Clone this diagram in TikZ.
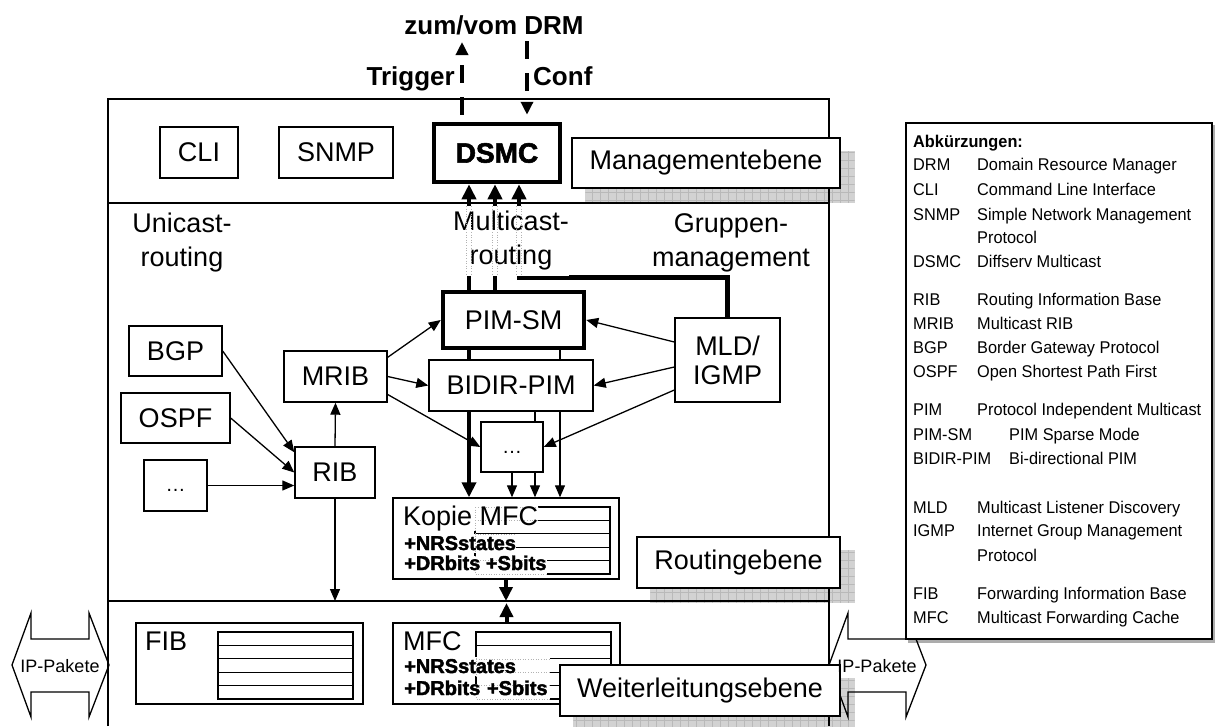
\documentclass[tikz,border=0pt]{standalone}
\usepackage{fontspec}
\setmainfont{Liberation Sans}
\newfontfamily\heavyfont{Liberation Sans}[BoldFeatures={FakeBold=2}]
\newfontfamily\legfont{Liberation Sans}[FakeStretch=0.96]
\usetikzlibrary{arrows.meta}
\pgfdeclarelayer{shadows}
\pgfdeclarelayer{wires}
\pgfdeclarelayer{cells}
\pgfsetlayers{shadows,wires,main,cells}

% font sizes (1pt = 1 unit of the drawing)
\newcommand\fLab{\fontsize{27}{34}\selectfont}
\newcommand\fMld{\fontsize{27}{29}\selectfont}
\newcommand\fHead{\bfseries\fontsize{26}{30}\selectfont}
\newcommand\fHeavy{\heavyfont\bfseries\fontsize{28}{30}\selectfont}
\newcommand\fNRS{\heavyfont\bfseries\fontsize{20}{22}\selectfont}
\newcommand\fLeg{\legfont\fontsize{17}{20}\selectfont}
\newcommand\fIP{\fontsize{18}{20}\selectfont}
\newcommand\fDots{\fontsize{20}{22}\selectfont}

\tikzset{
  box/.style={draw, fill=white, line width=1.4pt, inner sep=0pt, font=\fLab},
  heavybox/.style={box, line width=4.5pt},
  dotsbox/.style={box, font=\fDots, text height=12pt, text depth=0pt},
  txt/.style={inner sep=0pt, font=\fLab, align=center},
  celltext/.style={inner sep=0pt, anchor=base west},
  planeframe/.style={line width=1.4pt},
  conn/.style={line width=1.3pt, -{Triangle[length=12pt,width=10pt]}},
  fatline/.style={line width=4.5pt},
  fatarrow/.style={fatline, -{Triangle[length=15pt,width=14pt]}},
  fatboth/.style={fatline, {Triangle[length=15pt,width=14pt]}-{Triangle[length=15pt,width=14pt]}},
  drmarrow/.style={line width=4pt, dash pattern=on 18pt off 14pt, -{Triangle[length=13pt,width=12pt]}},
  hiddenline/.style={gray!60, dotted, line width=0.6pt},
  tablerule/.style={line width=1.2pt},
  shadowfill/.style={fill=gray!35},
  shadowgrid/.style={draw=gray!55, line width=0.4pt, step=8pt},
  legtext/.style={font=\fLeg, inner sep=0pt, anchor=base west},
  ipshape/.style={line width=1.3pt},
  iptext/.style={font=\fIP, inner sep=0pt},
  legshadow/.style={fill=gray!65},
}

% table of five rows: style, x1, y1, x2, y2
\newcommand\tablegrid[5]{%
  \draw[#1] (#2,#3) rectangle (#4,#5);
  \foreach \k in {1,...,4}
    \draw[#1] (#2,{#3+(#5-#3)*\k/5}) -- (#4,{#3+(#5-#3)*\k/5});
}
% white patch behind a cell label; the covered rules stay visible as dots
% args: label node, x1, y1, x2, y2 of the table
\newcommand\cellpatch[5]{%
  \fill[white] (#1.south west) rectangle (#1.north east);
  \begin{scope}
    \clip (#1.south west) rectangle (#1.north east);
    \tablegrid{hiddenline}{#2}{#3}{#4}{#5}
  \end{scope}
}
% hatched drop shadow between two corners
\newcommand\gridshadow[2]{%
  \fill[shadowfill] #1 rectangle #2;
  \begin{scope}
    \clip #1 rectangle #2;
    \draw[shadowgrid] #1 grid #2;
  \end{scope}
}

\begin{document}
\begin{tikzpicture}[x=1pt,y=-1pt]
\useasboundingbox (0,0) rectangle (1215,726);

% ---------- management plane ----------
\node[box, minimum width=78pt, minimum height=51pt] (cli) at (199,152.5) {CLI};
\node[box, minimum width=114pt, minimum height=51pt] (snmp) at (336,152.5) {SNMP};
\node[heavybox, minimum width=126pt, minimum height=58pt, font=\fHeavy] (dsmc) at (497,153) {DSMC};

\node[font=\fHead, inner sep=0pt] (drm) at (494,25) {zum/vom DRM};
\node[font=\fHead, inner sep=0pt, anchor=base east] (trig) at (455,85) {Trigger};
\node[font=\fHead, inner sep=0pt, anchor=base west] (conf) at (533,85) {Conf};
\coordinate (trigEnd) at (462,42);
\coordinate (confStart) at (527,41);

% ---------- routing plane ----------
\node[txt] (uni) at (182,243) {Unicast-\\routing};
\node[txt] (grp) at (731,243) {Gruppen-\\management};

\node[heavybox, minimum width=141pt, minimum height=56pt] (pimsm) at (513.5,320) {PIM-SM};
\node[box, minimum width=164pt, minimum height=51pt] (bidir) at (511,385.5) {BIDIR-PIM};
\node[box, align=center, font=\fMld, minimum width=105pt, minimum height=84pt] (mld) at (727.5,360) {MLD/\\IGMP};
\node[box, minimum width=103pt, minimum height=51pt] (mrib) at (335.5,376.5) {MRIB};
\node[box, minimum width=93pt, minimum height=50pt] (bgp) at (175.5,351) {BGP};
\node[box, minimum width=109pt, minimum height=50pt] (ospf) at (175.5,418) {OSPF};
\node[dotsbox, minimum width=63pt, minimum height=51pt] (dotsl) at (175.5,485.5) {…};
\node[box, minimum width=80pt, minimum height=51pt] (rib) at (335,472.5) {RIB};
\node[dotsbox, minimum width=62pt, minimum height=50pt] (dotsm) at (512,447) {…};
\node[box, minimum width=226pt, minimum height=81pt] (kopie) at (506,538.5) {};

% multicast routing label hides the lines that run behind it
\node[txt, fill=white, minimum height=70pt] (multi) at (511,241) {Multicast-\\routing};
\foreach \x in {469,495,519}
  \draw[hiddenline] ({\x-2.4},206) -- ({\x-2.4},276) ({\x+2.4},206) -- ({\x+2.4},276);

% ---------- forwarding plane ----------
\node[box, minimum width=227pt, minimum height=81pt] (fib) at (249.5,663.5) {};
\node[box, minimum width=227pt, minimum height=81pt] (mfc) at (506.5,663.5) {};

% cell labels of the cache tables
\begin{pgfonlayer}{cells}
  \node[celltext, font=\fLab, text height=20pt, text depth=6pt] (kopiet) at (403,525) {Kopie MFC};
  \node[celltext, font=\fNRS, text height=16pt, text depth=3pt] (kopien) at (404,550) {+NRSstates};
  \node[celltext, font=\fNRS, text height=14pt, text depth=6pt] (kopied) at (404,570) {+DRbits +Sbits};
  \node[celltext, font=\fLab] (fibt) at (145,650) {FIB};
  \node[celltext, font=\fLab] (mfct) at (403,650) {MFC};
  \node[celltext, font=\fNRS, text width=146pt, align=left, text height=16pt, text depth=3pt] (mfcn) at (404,673) {+NRSstates};
  \node[celltext, font=\fNRS, text width=146pt, align=left, text height=11pt, text depth=6pt] (mfcd) at (404,695) {+DRbits +Sbits};
\end{pgfonlayer}

\tablegrid{tablerule}{475}{507}{610}{574}
\cellpatch{kopiet}{475}{507}{610}{574}
\cellpatch{kopien}{475}{507}{610}{574}
\cellpatch{kopied}{475}{507}{610}{574}
\tablegrid{tablerule}{218}{632}{353}{699}
\tablegrid{tablerule}{476}{632}{611}{699}
\cellpatch{mfcn}{476}{632}{611}{699}
\cellpatch{mfcd}{476}{632}{611}{699}

% ---------- plane labels ----------
\node[box, minimum width=268pt, minimum height=50pt] (mgmt) at (706,163) {Managementebene};
\node[box, minimum width=203pt, minimum height=51pt] (routl) at (738.5,562.5) {Routingebene};
\node[box, minimum width=280pt, minimum height=51pt] (fwdl) at (700,690.5) {Weiterleitungsebene};

% ---------- abbreviations ----------
\node[draw, fill=white, line width=1.4pt, inner sep=0pt, minimum width=306pt, minimum height=516pt] (legend) at (1059,381) {};
\node[legtext, font=\fLeg\bfseries] (abkt) at (913,147) {Abkürzungen:};
\foreach \ab/\de/\yy [count=\i] in {DRM/Domain Resource Manager/170.5,
    CLI/Command Line Interface/195, SNMP/Simple Network Management/220,
    /Protocol/243, DSMC/Diffserv Multicast/267,
    RIB/Routing Information Base/305, MRIB/Multicast RIB/329,
    BGP/Border Gateway Protocol/353, OSPF/Open Shortest Path First/377,
    PIM/Protocol Independent Multicast/415,
    MLD/Multicast Listener Discovery/513, IGMP/Internet Group Management/536,
    /Protocol/561, FIB/Forwarding Information Base/599,
    MFC/Multicast Forwarding Cache/623}{
  \node[legtext] (abk\i) at (913,\yy) {\ab};
  \node[legtext] (dsc\i) at (977,\yy) {\de};
}
\node[legtext] (abkpsm) at (913,440) {PIM-SM};
\node[legtext] (dscpsm) at (1009,440) {PIM Sparse Mode};
\node[legtext] (abkbid) at (913,464) {BIDIR-PIM};
\node[legtext] (dscbid) at (1009,464) {Bi-directional PIM};

% ---------- packet flow labels ----------
\node[iptext] (ipl) at (60,666) {IP-Pakete};
\node[iptext] (ipr) at (877,666) {IP-Pakete};

% ---------- shadows ----------
\begin{pgfonlayer}{shadows}
  \gridshadow{([shift={(14pt,-14pt)}]mgmt.south west)}{([shift={(14pt,-14pt)}]mgmt.north east)}
  \gridshadow{([shift={(14pt,-14pt)}]routl.south west)}{([shift={(14pt,-14pt)}]routl.north east)}
  \gridshadow{([shift={(14pt,-14pt)}]fwdl.south west)}{([shift={(14pt,-14pt)}]fwdl.north east)}
  \fill[legshadow] ([shift={(3pt,-3pt)}]legend.south west) rectangle ([shift={(3pt,-3pt)}]legend.north east);
\end{pgfonlayer}

% ---------- frame, packet arrows and connectors ----------
\begin{pgfonlayer}{wires}
  \draw[planeframe] (108,726) -- (108,99) -- (829,99) -- (829,726);
  \coordinate (ml) at (108,203);
  \coordinate (rl) at (108,601);
  \draw[planeframe] (ml) -- (829,203);
  \draw[planeframe] (rl) -- (829,601);

  \draw[ipshape] (12,665) -- (31,613) -- (31,639) -- (89,639) -- (89,613) -- (109,665)
     -- (89,717) -- (89,692) -- (31,692) -- (31,717) -- cycle;
  \draw[ipshape] (829,665) -- (848,613) -- (848,639) -- (906,639) -- (906,613) -- (926,665)
     -- (906,717) -- (906,692) -- (848,692) -- (848,717) -- cycle;

  % to and from the domain resource manager
  \draw[drmarrow, shorten <=7pt] ([xshift=-35pt]dsmc.north) -- (trigEnd);
  \draw[drmarrow, shorten >=7pt] (confStart) -- ([xshift=30pt]dsmc.north);

  % into the DSMC
  \draw[fatboth] ([xshift=-37pt]kopie.north) -- ([xshift=-28pt]dsmc.south);
  \draw[fatarrow] ([xshift=-18.5pt]pimsm.north) -- ([xshift=-2pt]dsmc.south);
  \draw[fatarrow] (mld.north) -- ++(0,-40) -| ([xshift=22pt]dsmc.south);

  % unicast routing
  \draw[conn] (bgp.east) -- ([yshift=-6pt]rib.north west);
  \draw[conn] (ospf.east) -- (rib.west);
  \draw[conn] (dotsl.east) -- (dotsl.east -| rib.west);
  \draw[conn] (rib.north) -- (mrib.south);
  \draw[conn] (rib.south) -- (rib.south |- rl);

  % multicast routing
  \draw[conn] ([yshift=-7pt]mrib.north east) -- (pimsm.west);
  \draw[conn] (mrib.east) -- (bidir.west);
  \draw[conn] ([yshift=-18pt]mrib.east) -- (dotsm.west);
  \draw[conn] ([yshift=18pt]mld.west) -- (pimsm.east);
  \draw[conn] ([yshift=-7pt]mld.west) -- (bidir.east);
  \draw[conn] ([yshift=-30pt]mld.west) -- (dotsm.east);
  \draw[conn] ([xshift=46.5pt]pimsm.south) -- ([xshift=46.5pt]pimsm.south |- kopie.north);
  \draw[conn] ([xshift=24pt]bidir.south) -- ([xshift=24pt]bidir.south |- kopie.north);
  \draw[conn] (dotsm.south) -- (dotsm.south |- kopie.north);

  % copy and cache meet at the plane boundary
  \draw[fatline, line width=4pt, -{Triangle[length=14pt,width=13pt]}] (kopie.south) -- (kopie.south |- rl);
  \draw[fatline, line width=4pt, -{Triangle[length=14pt,width=13pt]}] (mfc.north) -- ([yshift=-2pt]mfc.north |- rl);
\end{pgfonlayer}
\end{tikzpicture}
\end{document}
